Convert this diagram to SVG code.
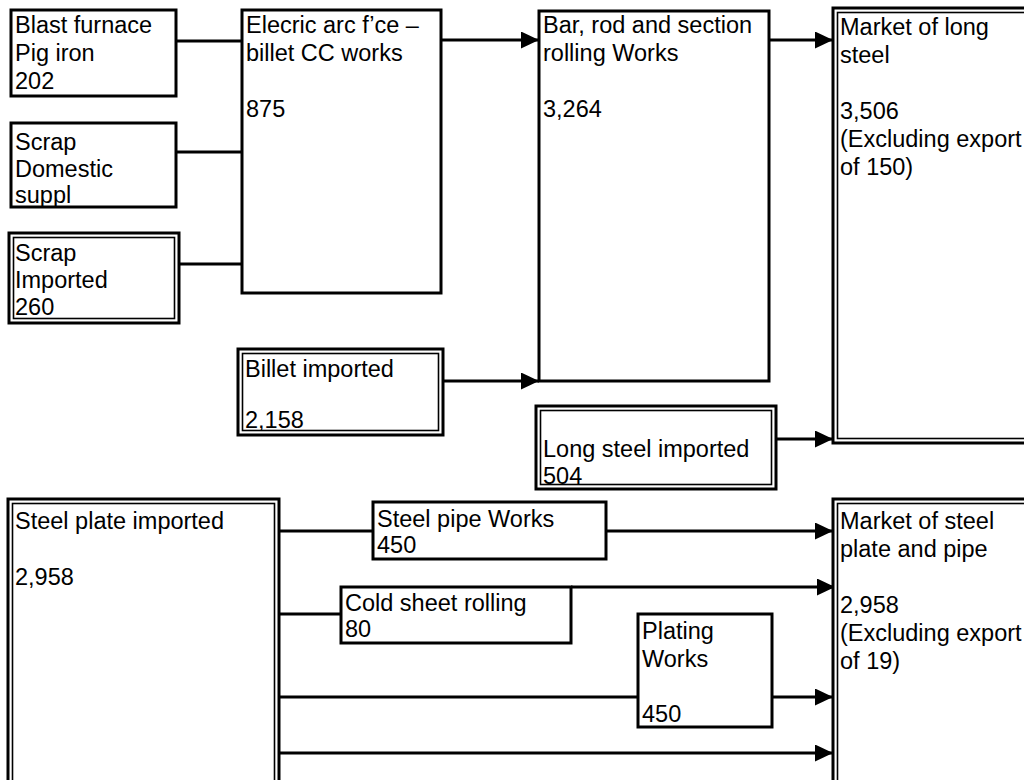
<svg xmlns="http://www.w3.org/2000/svg" width="1024" height="780" viewBox="0 0 1024 780">
<style>
  .box{fill:#fff;stroke:#000;stroke-width:3}
  .outer{fill:#fff;stroke:#000;stroke-width:3}
  .inner{fill:none;stroke:#000;stroke-width:1.6}
  .t{font-family:"Liberation Sans","Noto Sans CJK JP",Arial,sans-serif;font-size:23.5px;fill:#000}
  .c{stroke:#000;stroke-width:3;fill:none}
  .a{marker-end:url(#arr)}
</style>
<defs>
  <marker id="arr" markerUnits="userSpaceOnUse" markerWidth="18" markerHeight="17" refX="18" refY="8.5" orient="auto">
    <path d="M0,0 L18,8.5 L0,17 z" fill="#000"/>
  </marker>
</defs>
<rect width="1024" height="780" fill="#fff"/>

<g id="connectors">
  <line class="c" x1="176" y1="41" x2="242" y2="41"/>
  <line class="c" x1="176" y1="152" x2="242" y2="152"/>
  <line class="c" x1="179" y1="264" x2="242" y2="264"/>
  <line class="c a" x1="441" y1="40" x2="539" y2="40"/>
  <line class="c a" x1="769" y1="40" x2="833" y2="40"/>
  <line class="c a" x1="443" y1="381" x2="539" y2="381"/>
  <line class="c a" x1="776" y1="439" x2="833" y2="439"/>
  <line class="c" x1="279" y1="531" x2="373" y2="531"/>
  <line class="c a" x1="606" y1="531" x2="833" y2="531"/>
  <line class="c" x1="279" y1="614" x2="341" y2="614"/>
  <line class="c a" x1="571" y1="587" x2="835" y2="587"/>
  <line class="c" x1="279" y1="697" x2="638" y2="697"/>
  <line class="c a" x1="772" y1="697" x2="833" y2="697"/>
  <line class="c a" x1="279" y1="753" x2="833" y2="753"/>
</g>

<g id="blast-furnace">
  <rect class="box" x="11" y="10" width="165" height="86"/>
  <text class="t" x="15" y="33">Blast furnace</text>
  <text class="t" x="15" y="61">Pig iron</text>
  <text class="t" x="15" y="89">202</text>
</g>

<g id="scrap-domestic">
  <rect class="box" x="11" y="123" width="165" height="84"/>
  <text class="t" x="15" y="150">Scrap</text>
  <text class="t" x="15" y="177">Domestic</text>
  <text class="t" x="15" y="203">suppl</text>
</g>

<g id="scrap-imported">
  <rect class="outer" x="9" y="233" width="170" height="90"/>
  <rect class="inner" x="13.5" y="237.5" width="161" height="81"/>
  <text class="t" x="15" y="261">Scrap</text>
  <text class="t" x="15" y="288">Imported</text>
  <text class="t" x="15" y="315">260</text>
</g>

<g id="eaf">
  <rect class="box" x="242" y="10" width="199" height="283"/>
  <text class="t" x="246" y="33">Elecric arc f’ce –</text>
  <text class="t" x="246" y="61">billet CC works</text>
  <text class="t" x="246" y="117">875</text>
</g>

<g id="bar-rod">
  <rect class="box" x="539" y="11" width="230" height="370"/>
  <text class="t" x="543" y="33">Bar, rod and section</text>
  <text class="t" x="543" y="61">rolling Works</text>
  <text class="t" x="543" y="117">3,264</text>
</g>

<g id="market-long">
  <rect class="outer" x="833" y="8" width="220" height="435"/>
  <rect class="inner" x="837.5" y="12.5" width="211" height="426"/>
  <text class="t" x="840" y="35">Market of long</text>
  <text class="t" x="840" y="63">steel</text>
  <text class="t" x="840" y="119">3,506</text>
  <text class="t" x="840" y="147">(Excluding export</text>
  <text class="t" x="840" y="175">of 150)</text>
</g>

<g id="billet-imported">
  <rect class="outer" x="238" y="349" width="205" height="86"/>
  <rect class="inner" x="242.5" y="353.5" width="196" height="77"/>
  <text class="t" x="245" y="377">Billet imported</text>
  <text class="t" x="245" y="428">2,158</text>
</g>

<g id="long-steel-imported">
  <rect class="outer" x="536" y="406" width="240" height="83"/>
  <rect class="inner" x="540.5" y="410.5" width="231" height="74"/>
  <text class="t" x="543" y="457">Long steel imported</text>
  <text class="t" x="543" y="484">504</text>
</g>

<g id="steel-plate-imported">
  <rect class="outer" x="8" y="499" width="271" height="300"/>
  <rect class="inner" x="12.5" y="503.5" width="262" height="291"/>
  <text class="t" x="15" y="529">Steel plate imported</text>
  <text class="t" x="15" y="585">2,958</text>
</g>

<g id="steel-pipe">
  <rect class="box" x="373" y="502" width="233" height="57"/>
  <text class="t" x="377" y="527">Steel pipe Works</text>
  <text class="t" x="377" y="553">450</text>
</g>

<g id="cold-sheet">
  <rect class="box" x="341" y="587" width="230" height="56"/>
  <text class="t" x="345" y="611">Cold sheet rolling</text>
  <text class="t" x="345" y="637">80</text>
</g>

<g id="plating">
  <rect class="box" x="638" y="614" width="134" height="113"/>
  <text class="t" x="642" y="639">Plating</text>
  <text class="t" x="642" y="667">Works</text>
  <text class="t" x="642" y="722">450</text>
</g>

<g id="market-plate">
  <rect class="outer" x="833" y="499" width="220" height="300"/>
  <rect class="inner" x="837.5" y="503.5" width="211" height="291"/>
  <text class="t" x="840" y="529">Market of steel</text>
  <text class="t" x="840" y="557">plate and pipe</text>
  <text class="t" x="840" y="613">2,958</text>
  <text class="t" x="840" y="641">(Excluding export</text>
  <text class="t" x="840" y="669">of 19)</text>
</g>
</svg>
